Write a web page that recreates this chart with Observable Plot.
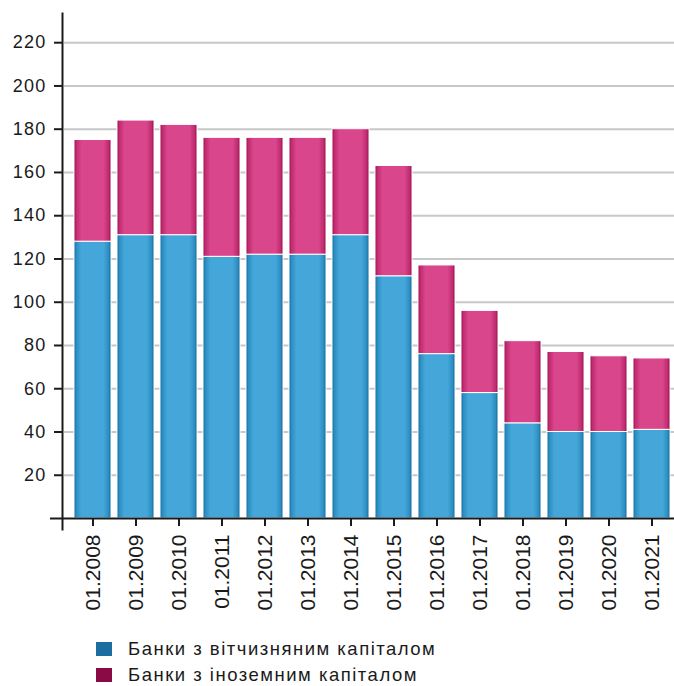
<!DOCTYPE html>
<html>
<head>
<meta charset="utf-8">
<script src="https://cdn.jsdelivr.net/npm/d3@7"></script>
<script src="https://cdn.jsdelivr.net/npm/@observablehq/plot@0.6"></script>
<style>
  html, body { margin: 0; padding: 0; background: #fff; }
  body { width: 674px; font-family: "Liberation Sans", Arial, sans-serif; }
  .legend { padding: 11px 0 0 96px; }
  .legend .row { display: flex; align-items: center; height: 26px; font-size: 18.5px; letter-spacing: 1.5px; color: #1a1a1a; }
  .legend .sw { width: 16px; height: 14px; margin-right: 16px; }
</style>
</head>
<body>
<div id="chart"></div>
<div class="legend" id="legend"></div>
<script>
const categories = ["01.2008","01.2009","01.2010","01.2011","01.2012","01.2013","01.2014","01.2015","01.2016","01.2017","01.2018","01.2019","01.2020","01.2021"];
const domestic = [128, 131, 131, 121, 122, 122, 131, 112, 76, 58, 44, 40, 40, 41];
const foreign  = [47, 53, 51, 55, 54, 54, 49, 51, 41, 38, 38, 37, 35, 33];
const seriesNames = ["Банки з вітчизняним капіталом", "Банки з іноземним капіталом"];
const legendColors = ["#1b6e9f", "#8a0a45"];
const yTicks = [20, 40, 60, 80, 100, 120, 140, 160, 180, 200, 220];

const rows = [];
categories.forEach((c, i) => {
  rows.push({date: c, series: seriesNames[0], value: domestic[i]});
  rows.push({date: c, series: seriesNames[1], value: foreign[i]});
});

const defs = () => {
  const d = d3.create("svg:defs");
  const mk = (id, stops) => {
    const g = d.append("linearGradient").attr("id", id).attr("x1", 0).attr("x2", 1).attr("y1", 0).attr("y2", 0);
    stops.forEach(([o, c]) => g.append("stop").attr("offset", o).attr("stop-color", c));
  };
  mk("gBlue", [[0, "#0f6898"], [0.06, "#2a8cc0"], [0.2, "#45a7d9"], [0.8, "#45a7d9"], [0.94, "#2a8cc0"], [1, "#0d6190"]]);
  mk("gPink", [[0, "#980848"], [0.06, "#c02a6e"], [0.2, "#d9468b"], [0.8, "#d9468b"], [0.94, "#c02a6e"], [1, "#900544"]]);
  return d.node();
};

const chart = Plot.plot({
  width: 674,
  height: 625,
  marginTop: 13,
  marginBottom: 107,
  marginLeft: 62,
  marginRight: 0,
  style: {fontFamily: "'Liberation Sans', Arial, sans-serif", fontSize: "18px", color: "#1a1a1a", background: "white"},
  x: {domain: categories, insetLeft: 7, paddingInner: 0.143, paddingOuter: 0.06, label: null},
  y: {domain: [0, 233.5], label: null},
  color: {domain: seriesNames, range: ["url(#gBlue)", "url(#gPink)"]},
  marks: [
    defs,
    Plot.gridY(yTicks, {stroke: "#c8c8c8", strokeOpacity: 1, strokeWidth: 2, insetLeft: 2}),
    Plot.barY(rows, {x: "date", y: "value", fill: "series", stroke: "white", strokeWidth: 1, order: seriesNames}),
    Plot.axisY(yTicks, {tickSize: 8, tickPadding: 8, stroke: "#1a1a1a", strokeWidth: 2, fontSize: 18, label: null}),
    Plot.axisX({tickSize: 8, tickPadding: 8, tickRotate: -90, stroke: "#1a1a1a", strokeWidth: 2, fontSize: 21, label: null}),
    Plot.ruleY([0], {stroke: "#1a1a1a", strokeWidth: 2, insetLeft: -12}),
    Plot.frame({anchor: "left", stroke: "#1a1a1a", strokeWidth: 2, insetBottom: -11})
  ]
});
document.getElementById("chart").appendChild(chart);
d3.select(chart).selectAll("[aria-label='y-axis tick label'] text").style("letter-spacing", "1.2px");

const lg = d3.select("#legend");
seriesNames.forEach((n, i) => {
  const r = lg.append("div").attr("class", "row");
  r.append("div").attr("class", "sw").style("background", legendColors[i]);
  r.append("span").text(n);
});
</script>
</body>
</html>
